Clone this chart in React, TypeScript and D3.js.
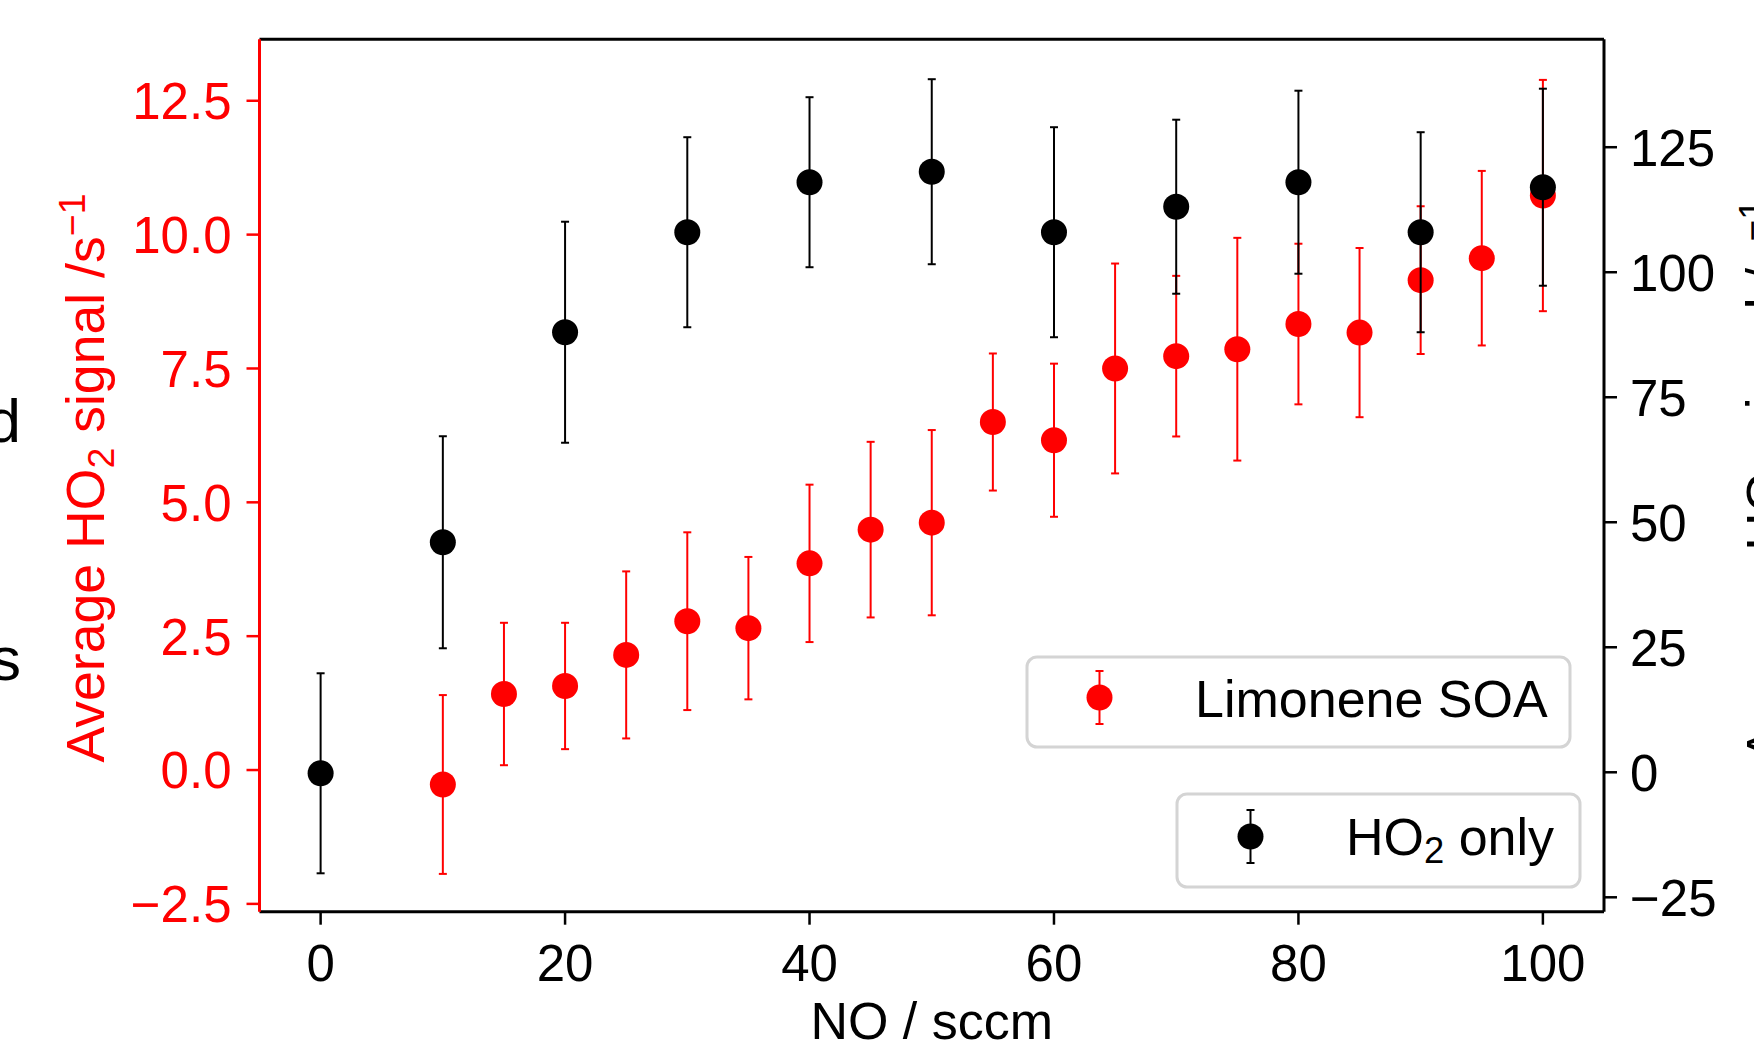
import React from 'react';
import * as d3 from 'd3';

// ---- data ----
const soaNO = [10, 15, 20, 25, 30, 35, 40, 45, 50, 55, 60, 65, 70, 75, 80, 85, 90, 95, 100];
const soaSignal = [-0.27, 1.42, 1.57, 2.15, 2.78, 2.65, 3.86, 4.49, 4.62, 6.5, 6.16, 7.5, 7.73, 7.86, 8.33, 8.17, 9.15, 9.56, 10.73];
const soaError = [1.67, 1.33, 1.18, 1.56, 1.66, 1.33, 1.47, 1.64, 1.73, 1.28, 1.43, 1.96, 1.5, 2.08, 1.5, 1.58, 1.38, 1.63, 2.16];

const ho2NO = [0, 10, 20, 30, 40, 50, 60, 70, 80, 90, 100];
const ho2Signal = [-0.2, 46.0, 88.0, 108.0, 118.0, 120.1, 108.0, 113.1, 118.0, 108.0, 117.0];
const ho2Error = [20, 21.2, 22.1, 19, 17, 18.5, 21, 17.4, 18.3, 20, 19.7];

const xTicks = [0, 20, 40, 60, 80, 100];
const leftTicks = [-2.5, 0, 2.5, 5, 7.5, 10, 12.5];
const rightTicks = [-25, 0, 25, 50, 75, 100, 125];
const xLabel = 'NO / sccm';
const seriesNames = ['Limonene SOA', 'only'];
const cutTexts = ['d', 's'];

const FONT = '"Liberation Sans", Arial, Helvetica, sans-serif';
const RED = '#ff0000';

function YLabel({ x, y, color, size }: { x: number; y: number; color: string; size: number }) {
  return (
    <text
      transform={`translate(${x},${y}) rotate(-90)`}
      textAnchor="middle"
      fill={color}
      fontSize={size}
      fontFamily={FONT}
    >
      Average HO
      <tspan fontSize={size * 0.7} dy={10}>2</tspan>
      <tspan dy={-10}> signal /s</tspan>
      <tspan fontSize={size * 0.7} dy={-19}>−1</tspan>
    </text>
  );
}

export default function App() {
  const W = 1754, H = 1048;
  const left = 259.5, right = 1604, top = 39.2, bottom = 911.7;
  const x = d3.scaleLinear().domain([-5, 105]).range([left, right]);
  const yL = d3.scaleLinear().domain([-2.646, 13.65]).range([bottom, top]);
  const yR = d3.scaleLinear().domain([-27.88, 146.6]).range([bottom, top]);
  const fmtL = d3.format('.1f');
  const fmtR = d3.format('d');
  const tickLen = 13;
  const cap = 4;
  const r = 13;

  const errBar = (cx: number, y0: number, y1: number, color: string, key: string) => (
    <g key={key} stroke={color} strokeWidth={2}>
      <line x1={cx} x2={cx} y1={y0} y2={y1} />
      <line x1={cx - cap} x2={cx + cap} y1={y0} y2={y0} />
      <line x1={cx - cap} x2={cx + cap} y1={y1} y2={y1} />
    </g>
  );

  return (
    <svg
      width={W}
      height={H}
      style={{ position: 'absolute', left: 0, top: 0, background: '#fff' }}
      fontFamily={FONT}
    >
      <rect x={0} y={0} width={W} height={H} fill="#fff" />

      {/* cut-off text from neighbouring content */}
      <text x={21} y={442} textAnchor="end" fontSize={62} fill="#000">{cutTexts[0]}</text>
      <text x={21} y={680} textAnchor="end" fontSize={62} fill="#000">{cutTexts[1]}</text>

      {/* red series (left axis) */}
      <g>
        {soaNO.map((n, i) =>
          errBar(x(n), yL(soaSignal[i] + soaError[i]), yL(soaSignal[i] - soaError[i]), RED, 'se' + i)
        )}
        {soaNO.map((n, i) => (
          <circle key={'sp' + i} cx={x(n)} cy={yL(soaSignal[i])} r={r} fill={RED} />
        ))}
      </g>

      {/* legend 1 */}
      <g>
        <rect x={1027} y={657} width={543} height={90} rx={10} fill="#fff" fillOpacity={0.8} stroke="#d4d4d4" strokeWidth={3} />
        {errBar(1099.5, 671, 724, RED, 'le1')}
        <circle cx={1099.5} cy={697.5} r={r} fill={RED} />
        <text x={1195} y={716.5} fontSize={52} fill="#000">{seriesNames[0]}</text>
      </g>

      {/* black series (right axis) */}
      <g>
        {ho2NO.map((n, i) =>
          errBar(x(n), yR(ho2Signal[i] + ho2Error[i]), yR(ho2Signal[i] - ho2Error[i]), '#000', 'he' + i)
        )}
        {ho2NO.map((n, i) => (
          <circle key={'hp' + i} cx={x(n)} cy={yR(ho2Signal[i])} r={r} fill="#000" />
        ))}
      </g>

      {/* legend 2 */}
      <g>
        <rect x={1177} y={794} width={403} height={93} rx={10} fill="#fff" fillOpacity={0.8} stroke="#d4d4d4" strokeWidth={3} />
        {errBar(1250.5, 810, 863, '#000', 'le2')}
        <circle cx={1250.5} cy={836.5} r={r} fill="#000" />
        <text x={1346} y={855} fontSize={52} fill="#000">
          HO<tspan fontSize={36.4} dy={8}>2</tspan><tspan dy={-8}> {seriesNames[1]}</tspan>
        </text>
      </g>

      {/* spines */}
      <line x1={left} x2={right} y1={top} y2={top} stroke="#000" strokeWidth={3} />
      <line x1={left} x2={right} y1={bottom} y2={bottom} stroke="#000" strokeWidth={3} />
      <line x1={right} x2={right} y1={top} y2={bottom} stroke="#000" strokeWidth={3} />
      <line x1={left} x2={left} y1={top} y2={bottom} stroke={RED} strokeWidth={3} />

      {/* x axis */}
      {xTicks.map((t) => (
        <g key={'xt' + t}>
          <line x1={x(t)} x2={x(t)} y1={bottom} y2={bottom + tickLen} stroke="#000" strokeWidth={2.5} />
          <text x={x(t)} y={981} textAnchor="middle" fontSize={51} fill="#000">{t}</text>
        </g>
      ))}
      <text x={(left + right) / 2} y={1039} textAnchor="middle" fontSize={52} fill="#000">{xLabel}</text>

      {/* left axis */}
      {leftTicks.map((t) => (
        <g key={'lt' + t}>
          <line x1={left - tickLen} x2={left} y1={yL(t)} y2={yL(t)} stroke={RED} strokeWidth={2.5} />
          <text x={231.5} y={yL(t)} dy="0.36em" textAnchor="end" fontSize={51} fill={RED}>{fmtL(t)}</text>
        </g>
      ))}
      <YLabel x={104} y={478} color={RED} size={53.6} />

      {/* right axis */}
      {rightTicks.map((t) => (
        <g key={'rt' + t}>
          <line x1={right} x2={right + tickLen} y1={yR(t)} y2={yR(t)} stroke="#000" strokeWidth={2.5} />
          <text x={1630} y={yR(t)} dy="0.36em" textAnchor="start" fontSize={51} fill="#000">{fmtR(t)}</text>
        </g>
      ))}
      <YLabel x={1784} y={480.5} color="#000" size={53} />
    </svg>
  );
}
